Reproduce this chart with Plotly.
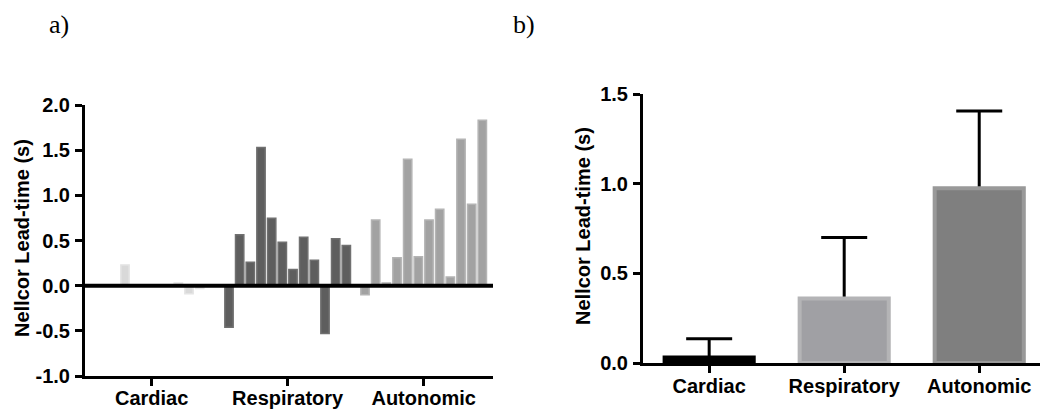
import plotly.graph_objects as go

# ---------------- data ----------------
categories = ["Cardiac", "Respiratory", "Autonomic"]

# panel a: individual lead-times (s), 12 per category
cardiac_vals = [0, 0, 0, 0.23, 0, 0, 0.01, 0, 0.03, -0.09, -0.03, 0]
respiratory_vals = [-0.46, 0.565, 0.26, 1.53, 0.745, 0.48, 0.18, 0.535, 0.28, -0.53, 0.52, 0.445]
autonomic_vals = [-0.10, 0.727, 0.03, 0.31, 1.40, 0.32, 0.727, 0.845, 0.096, 1.62, 0.90, 1.83]

# panel b: mean lead-time and upper error (s)
mean_vals = [0.03, 0.36, 0.975]
err_upper = [0.105, 0.34, 0.43]

a_ticks = [-1.0, -0.5, 0.0, 0.5, 1.0, 1.5, 2.0]
a_ticktext = ["-1.0", "-0.5", "0.0", "0.5", "1.0", "1.5", "2.0"]
b_ticks = [0.0, 0.5, 1.0, 1.5]
b_ticktext = ["0.0", "0.5", "1.0", "1.5"]
y_title = "Nellcor Lead-time (s)"

# ---------------- styles ----------------
FONT = "Liberation Sans, Arial, sans-serif"
GROUP_STEP = 12.75
a_fill = ["#d9d9d9", "#5e5e5e", "#a2a2a2"]
a_line = ["#e4e4e4", "#707070", "#b4b4b4"]
b_fill = ["#000000", "#a0a0a4", "#7f7f7f"]
b_line = ["#000000", "#b4b4b6", "#999999"]

W, H = 1040, 413

def dom_x(x0, x1):
    return [x0 / W, x1 / W]

def dom_y(top, bottom):
    return [(H - bottom) / H, (H - top) / H]

fig = go.Figure()

groups = [cardiac_vals, respiratory_vals, autonomic_vals]
for gi, vals in enumerate(groups):
    n = len(vals)
    xs = [gi * GROUP_STEP + (k - (n - 1) / 2) for k in range(n)]
    fig.add_trace(go.Bar(
        x=xs, y=vals, width=0.78,
        marker=dict(color=a_fill[gi], line=dict(color=a_line[gi], width=1.5)),
        xaxis="x", yaxis="y", showlegend=False, hoverinfo="skip",
    ))

# panel b: error bars on an invisible bar trace drawn beneath the visible bars
fig.add_trace(go.Bar(
    x=categories, y=mean_vals, width=0.66,
    marker=dict(color="rgba(0,0,0,0)", line=dict(width=0)),
    error_y=dict(type="data", array=err_upper, arrayminus=mean_vals,
                 symmetric=False, color="black", thickness=3, width=23),
    xaxis="x2", yaxis="y2", showlegend=False, hoverinfo="skip",
))
fig.add_trace(go.Bar(
    x=categories, y=mean_vals, width=0.66,
    marker=dict(color=b_fill, line=dict(color=b_line, width=4)),
    xaxis="x2", yaxis="y2", showlegend=False, hoverinfo="skip",
))

tickfont = dict(family=FONT, size=20, color="black", weight="bold")
titlefont = dict(family=FONT, size=20, color="black", weight="bold")
axis_common = dict(showline=True, linecolor="black", linewidth=3,
                   ticks="outside", ticklen=7, tickwidth=3, tickcolor="black",
                   showgrid=False, zeroline=False, tickfont=tickfont,
                   automargin=False)

fig.update_layout(
    width=W, height=H, autosize=False,
    margin=dict(l=0, r=0, t=0, b=0, pad=0, autoexpand=False),
    paper_bgcolor="white", plot_bgcolor="white",
    barmode="overlay",
    xaxis=dict(domain=dom_x(85, 493), range=[-6.25, 32.0],
               tickvals=[gi * GROUP_STEP for gi in range(3)], ticktext=categories,
               ticklabelstandoff=-5, anchor="y", **axis_common),
    yaxis=dict(domain=dom_y(105, 376), range=[-1.0, 2.0],
               tickvals=a_ticks, ticktext=a_ticktext, anchor="x",
               ticklabelstandoff=1, **axis_common),
    xaxis2=dict(domain=dom_x(643, 1040), range=[-0.49, 2.45],
                ticklabelstandoff=-4, anchor="y2", **axis_common),
    yaxis2=dict(domain=dom_y(94, 363), range=[0, 1.5],
                tickvals=b_ticks, ticktext=b_ticktext, anchor="x2",
                ticklabelstandoff=1, **axis_common),
    shapes=[dict(type="line", xref="x domain", yref="y", x0=0, x1=1, y0=0, y1=0,
                 layer="above", line=dict(color="black", width=4))],
    annotations=[
        dict(text="a)", x=47 / W, y=(H - 24) / H, xref="paper", yref="paper",
             xanchor="left", yanchor="middle", showarrow=False,
             font=dict(family="Liberation Serif, Times New Roman, serif", size=26, color="black")),
        dict(text="b)", x=511 / W, y=(H - 24) / H, xref="paper", yref="paper",
             xanchor="left", yanchor="middle", showarrow=False,
             font=dict(family="Liberation Serif, Times New Roman, serif", size=26, color="black")),
        dict(text=y_title, textangle=-90, x=22 / W, y=(H - 238) / H,
             xref="paper", yref="paper", xanchor="center", yanchor="middle",
             showarrow=False, font=titlefont),
        dict(text=y_title, textangle=-90, x=583 / W, y=(H - 226) / H,
             xref="paper", yref="paper", xanchor="center", yanchor="middle",
             showarrow=False, font=titlefont),
    ],
)

fig.write_html("out.html",
               post_script="document.body.style.margin='0';document.body.style.overflow='hidden';")
